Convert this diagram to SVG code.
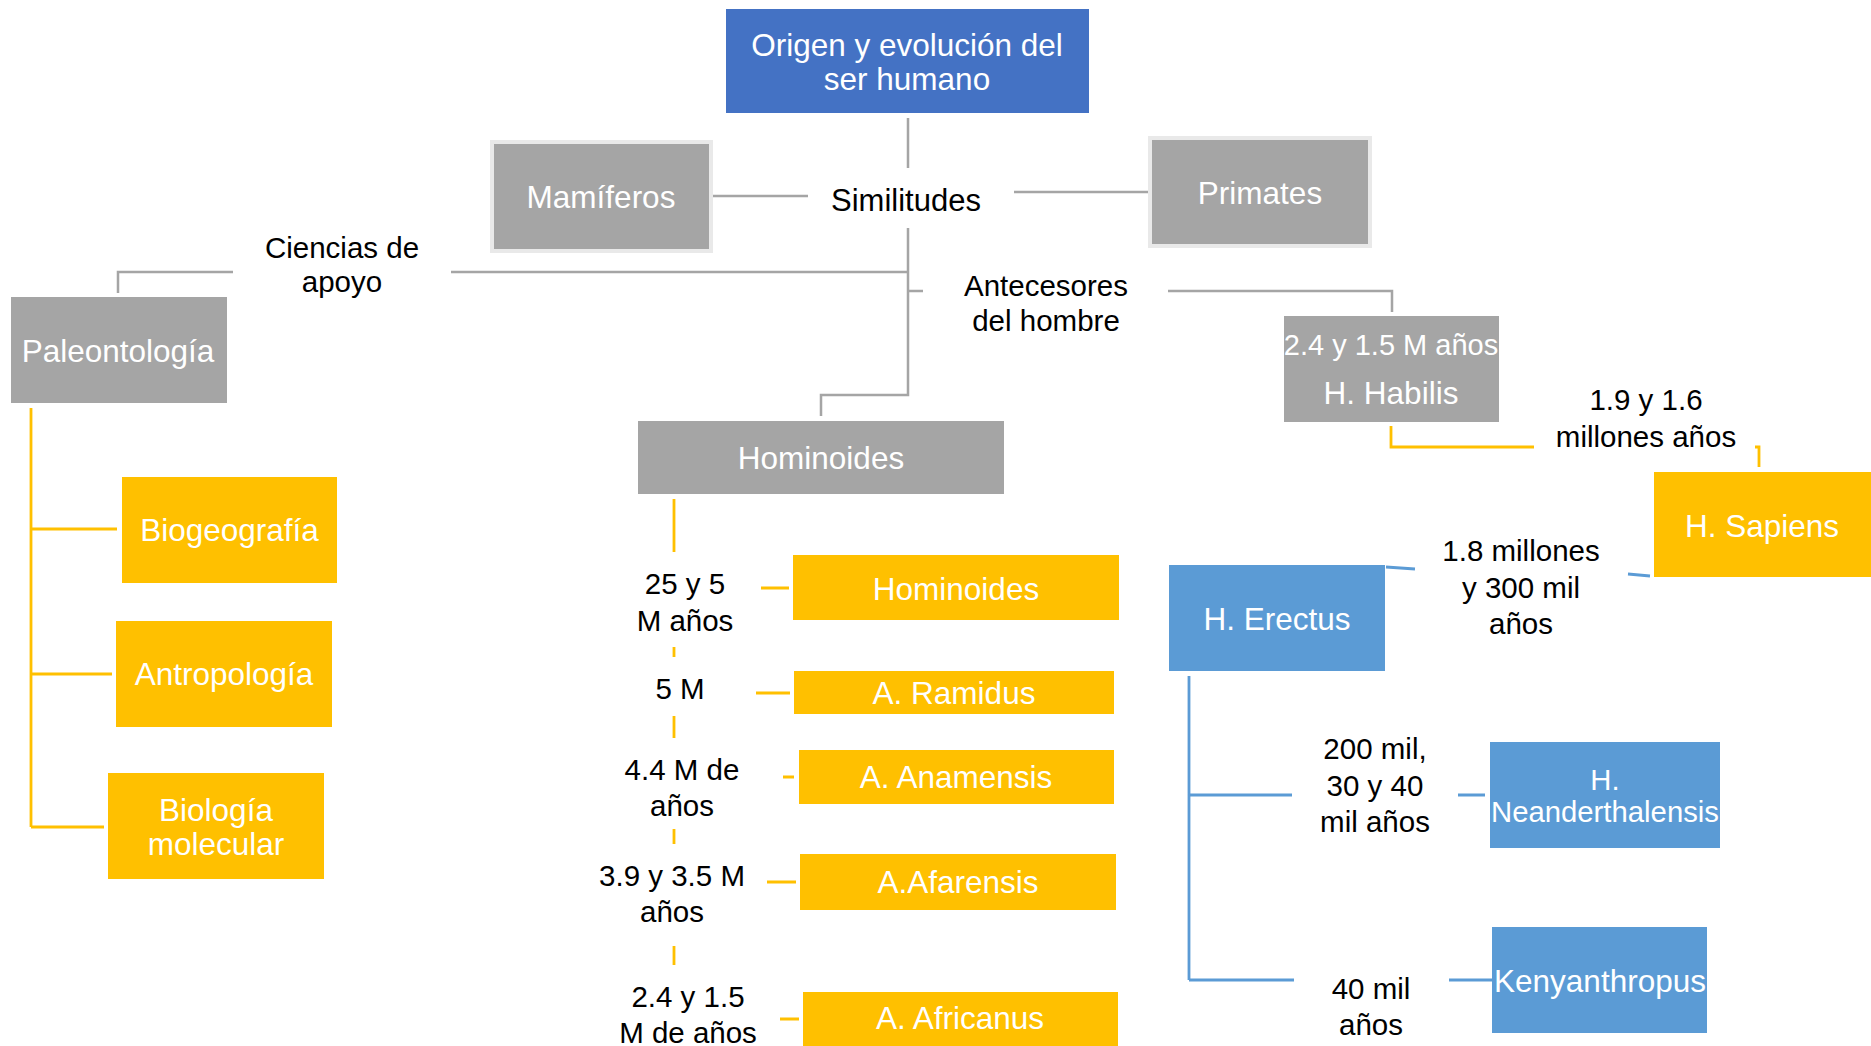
<svg xmlns="http://www.w3.org/2000/svg" width="1871" height="1046" viewBox="0 0 1871 1046">
<style>
text{font-family:"Liberation Sans",Arial,sans-serif;text-anchor:middle;transform:translateY(1.5px)}
.bt{fill:#fff;font-size:31.5px}
.lb{fill:#000;font-size:29.5px}
.gray{fill:#A5A5A5}
.yel{fill:#FFC000}
.blue{fill:#5B9BD5}
.g{stroke:#A5A5A5;stroke-width:2.5;fill:none}
.y{stroke:#FFC000;stroke-width:2.8;fill:none}
.b{stroke:#5B9BD5;stroke-width:2.8;fill:none}
</style>
<rect width="1871" height="1046" fill="#fff"/>
<g id="connectors">
<path class="g" d="M908 118V168M713 196H808M1014 192H1148M908 228V395H821V416M451 272H908M908 291H923M233 272H118V293M1168 291H1392V312"/>
<path class="y" d="M31 408V827M31 529H117M31 674H112M31 827H104M674 499V552M761 588H789M674 647V657M756 693H790M674 716V738M783 777H794M674 829V844M767 882H796M674 946V965M780 1019H799M1391 426V447H1534M1755 447H1759V467"/>
<path class="b" d="M1386 567L1415 569M1628 574L1650 576M1189 676V980M1189 795H1292M1189 980H1294M1458 795H1485M1449 980H1492"/>
</g>
<g id="title"><rect x="726" y="9" width="363" height="104" fill="#4472C4"/><text class="bt" x="907" y="54">Origen y evolución del</text><text class="bt" x="907" y="88">ser humano</text></g>
<g id="mamiferos"><rect x="492" y="142" width="219" height="109" class="gray" stroke="#E9E9E9" stroke-width="4"/><text class="bt" x="601" y="206">Mamíferos</text></g>
<g id="primates"><rect x="1150" y="138" width="220" height="108" class="gray" stroke="#E9E9E9" stroke-width="4"/><text class="bt" x="1260" y="202">Primates</text></g>
<g id="similitudes"><text class="lb" style="font-size:31px" x="906" y="209">Similitudes</text></g>
<g id="ciencias"><text class="lb" x="342" y="256">Ciencias de</text><text class="lb" x="342" y="290">apoyo</text></g>
<g id="antecesores"><text class="lb" x="1046" y="294">Antecesores</text><text class="lb" x="1046" y="329">del hombre</text></g>
<g id="paleontologia"><rect x="11" y="297" width="216" height="106" class="gray"/><text class="bt" x="118" y="360">Paleontología</text></g>
<g id="biogeografia"><rect x="122" y="477" width="215" height="106" class="yel"/><text class="bt" x="229.5" y="539">Biogeografía</text></g>
<g id="antropologia"><rect x="116" y="621" width="216" height="106" class="yel"/><text class="bt" x="224" y="683">Antropología</text></g>
<g id="biologia"><rect x="108" y="773" width="216" height="106" class="yel"/><text class="bt" x="216" y="819">Biología</text><text class="bt" x="216" y="853">molecular</text></g>
<g id="hominoides-gray"><rect x="638" y="421" width="366" height="73" class="gray"/><text class="bt" x="821" y="467">Hominoides</text></g>
<g id="l-25"><text class="lb" x="685" y="592">25 y 5</text><text class="lb" x="685" y="629">M años</text></g>
<g id="hominoides-yel"><rect x="793" y="555" width="326" height="65" class="yel"/><text class="bt" x="956" y="598">Hominoides</text></g>
<g id="l-5"><text class="lb" x="680" y="697">5 M</text></g>
<g id="ramidus"><rect x="794" y="671" width="320" height="43" class="yel"/><text class="bt" x="954" y="702">A. Ramidus</text></g>
<g id="l-44"><text class="lb" x="682" y="778">4.4 M de</text><text class="lb" x="682" y="814">años</text></g>
<g id="anamensis"><rect x="799" y="750" width="315" height="54" class="yel"/><text class="bt" x="956" y="786">A. Anamensis</text></g>
<g id="l-39"><text class="lb" x="672" y="884">3.9 y 3.5 M</text><text class="lb" x="672" y="920">años</text></g>
<g id="afarensis"><rect x="800" y="854" width="316" height="56" class="yel"/><text class="bt" x="958" y="891">A.Afarensis</text></g>
<g id="l-24"><text class="lb" x="688" y="1005">2.4 y 1.5</text><text class="lb" x="688" y="1041">M de años</text></g>
<g id="africanus"><rect x="803" y="992" width="315" height="60" class="yel"/><text class="bt" x="960" y="1027">A. Africanus</text></g>
<g id="habilis"><rect x="1284" y="316" width="215" height="106" class="gray"/><text class="bt" style="font-size:29px" x="1391" y="353">2.4 y 1.5 M años</text><text class="bt" x="1391" y="402">H. Habilis</text></g>
<g id="l-19"><text class="lb" x="1646" y="408">1.9 y 1.6</text><text class="lb" x="1646" y="445">millones años</text></g>
<g id="sapiens"><rect x="1654" y="472" width="220" height="105" class="yel"/><text class="bt" x="1762" y="535">H. Sapiens</text></g>
<g id="erectus"><rect x="1169" y="565" width="216" height="106" class="blue"/><text class="bt" x="1277" y="628">H. Erectus</text></g>
<g id="l-18"><text class="lb" x="1521" y="559">1.8 millones</text><text class="lb" x="1521" y="596">y 300 mil</text><text class="lb" x="1521" y="632">años</text></g>
<g id="l-200"><text class="lb" x="1375" y="757">200 mil,</text><text class="lb" x="1375" y="794">30 y 40</text><text class="lb" x="1375" y="830">mil años</text></g>
<g id="neanderthalensis"><rect x="1490" y="742" width="230" height="106" class="blue"/><text class="bt" style="font-size:29.3px" x="1605" y="788">H.</text><text class="bt" style="font-size:29.3px" x="1605" y="820">Neanderthalensis</text></g>
<g id="l-40"><text class="lb" x="1371" y="997">40 mil</text><text class="lb" x="1371" y="1033">años</text></g>
<g id="kenyanthropus"><rect x="1492" y="927" width="215" height="106" class="blue"/><text class="bt" x="1600" y="990">Kenyanthropus</text></g>
</svg>
